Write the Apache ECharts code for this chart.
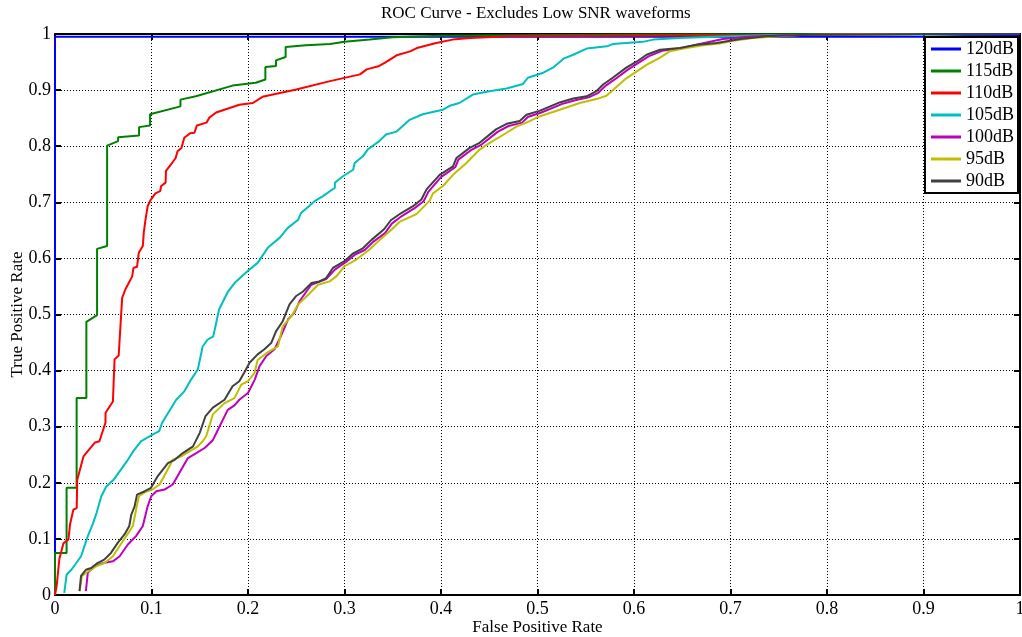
<!DOCTYPE html>
<html>
<head>
<meta charset="utf-8">
<script src="https://cdn.jsdelivr.net/npm/echarts@6/dist/echarts.min.js"></script>
<style>html,body{margin:0;padding:0;background:#fff;}#c{width:1022px;height:637px;}</style>
</head>
<body>
<div id="c"></div>
<script>
var seriesNames = ['120dB','115dB','110dB','105dB','100dB','95dB','90dB'];
var seriesColors = ['#0000ff','#008000','#ff0000','#00bfbf','#bf00bf','#bfbf00','#404040'];
var xTicks = [0,0.1,0.2,0.3,0.4,0.5,0.6,0.7,0.8,0.9,1];

var roc120 = [[0,0],[0,0.995],[0.9,0.995],[1,0.998]];
var roc115 = [[0,0],[0,0.075],[0.012,0.075],[0.012,0.191],[0.0224,0.191],[0.0224,0.351],[0.0325,0.351],[0.0325,0.487],[0.0436,0.499],[0.0436,0.617],[0.054,0.622],[0.054,0.801],[0.0654,0.809],[0.0654,0.816],[0.0871,0.819],[0.0871,0.834],[0.0985,0.837],[0.0985,0.857],[0.130,0.871],[0.130,0.883],[0.146,0.889],[0.184,0.908],[0.208,0.913],[0.218,0.919],[0.218,0.941],[0.229,0.943],[0.229,0.953],[0.239,0.959],[0.239,0.977],[0.260,0.980],[0.285,0.982],[0.300,0.986],[0.326,0.990],[0.350,0.994],[0.40,0.997],[0.6,0.999],[1,1]];
var roc110 = [[0,0],[0.0017,0.016],[0.0045,0.064],[0.0087,0.092],[0.0139,0.099],[0.0156,0.126],[0.019,0.152],[0.0225,0.155],[0.023,0.205],[0.0295,0.247],[0.0415,0.272],[0.046,0.274],[0.0523,0.307],[0.0524,0.325],[0.060,0.345],[0.0617,0.420],[0.066,0.427],[0.0696,0.530],[0.073,0.545],[0.080,0.568],[0.0813,0.583],[0.085,0.585],[0.0868,0.610],[0.091,0.622],[0.092,0.646],[0.0938,0.669],[0.096,0.693],[0.099,0.704],[0.104,0.716],[0.109,0.720],[0.110,0.729],[0.1146,0.735],[0.115,0.756],[0.120,0.767],[0.125,0.779],[0.127,0.791],[0.131,0.797],[0.134,0.815],[0.140,0.823],[0.1445,0.824],[0.147,0.837],[0.157,0.842],[0.160,0.851],[0.167,0.860],[0.191,0.874],[0.205,0.877],[0.215,0.888],[0.25,0.901],[0.285,0.916],[0.316,0.928],[0.323,0.937],[0.336,0.943],[0.342,0.949],[0.354,0.962],[0.368,0.969],[0.375,0.975],[0.395,0.984],[0.412,0.990],[0.430,0.993],[0.471,0.996],[0.8,0.998],[0.85,1],[1,1]];
var roc105 = [[0.0096,0.004],[0.012,0.036],[0.017,0.045],[0.022,0.057],[0.027,0.069],[0.034,0.105],[0.039,0.126],[0.043,0.146],[0.048,0.176],[0.053,0.193],[0.061,0.206],[0.0755,0.241],[0.081,0.256],[0.089,0.274],[0.101,0.286],[0.108,0.292],[0.111,0.307],[0.1256,0.348],[0.134,0.363],[0.141,0.384],[0.148,0.402],[0.153,0.443],[0.158,0.455],[0.164,0.461],[0.167,0.485],[0.170,0.509],[0.179,0.540],[0.186,0.556],[0.200,0.578],[0.210,0.592],[0.221,0.620],[0.233,0.637],[0.241,0.654],[0.252,0.669],[0.255,0.681],[0.269,0.702],[0.2777,0.711],[0.290,0.726],[0.290,0.735],[0.298,0.746],[0.309,0.758],[0.3105,0.770],[0.319,0.782],[0.324,0.794],[0.336,0.809],[0.343,0.821],[0.354,0.826],[0.3675,0.847],[0.381,0.857],[0.402,0.865],[0.409,0.872],[0.419,0.877],[0.433,0.892],[0.450,0.898],[0.468,0.903],[0.485,0.911],[0.490,0.922],[0.506,0.931],[0.516,0.940],[0.527,0.956],[0.537,0.963],[0.551,0.974],[0.572,0.978],[0.578,0.982],[0.609,0.986],[0.620,0.990],[0.647,0.993],[0.699,0.996],[0.75,0.998],[1,1]];
var roc100 = [[0.032,0.007],[0.034,0.040],[0.041,0.051],[0.050,0.057],[0.060,0.060],[0.067,0.069],[0.0755,0.090],[0.084,0.105],[0.091,0.123],[0.096,0.158],[0.0997,0.176],[0.105,0.185],[0.1135,0.188],[0.122,0.197],[0.129,0.218],[0.1377,0.244],[0.1464,0.253],[0.155,0.262],[0.1636,0.276],[0.169,0.295],[0.179,0.330],[0.186,0.338],[0.191,0.348],[0.200,0.360],[0.207,0.384],[0.212,0.408],[0.219,0.426],[0.2275,0.438],[0.234,0.461],[0.2414,0.491],[0.248,0.503],[0.2535,0.524],[0.2656,0.553],[0.281,0.563],[0.290,0.580],[0.302,0.594],[0.311,0.607],[0.321,0.615],[0.330,0.630],[0.342,0.645],[0.349,0.662],[0.359,0.675],[0.373,0.690],[0.382,0.702],[0.387,0.719],[0.400,0.745],[0.415,0.763],[0.418,0.776],[0.432,0.794],[0.442,0.803],[0.459,0.826],[0.470,0.836],[0.484,0.842],[0.490,0.852],[0.504,0.860],[0.525,0.875],[0.539,0.882],[0.553,0.887],[0.563,0.895],[0.570,0.907],[0.580,0.919],[0.594,0.937],[0.605,0.949],[0.615,0.960],[0.629,0.970],[0.650,0.975],[0.668,0.982],[0.692,0.991],[0.72,0.995],[0.76,0.998],[0.9,1],[1,1]];
var roc95 = [[0.0254,0.007],[0.028,0.034],[0.034,0.042],[0.0427,0.051],[0.0513,0.057],[0.060,0.069],[0.0668,0.087],[0.0738,0.105],[0.0807,0.123],[0.084,0.152],[0.087,0.176],[0.0928,0.183],[0.101,0.188],[0.1083,0.197],[0.115,0.218],[0.122,0.241],[0.1308,0.247],[0.1394,0.256],[0.148,0.265],[0.153,0.274],[0.1567,0.283],[0.1636,0.322],[0.1757,0.342],[0.186,0.351],[0.193,0.375],[0.200,0.381],[0.2068,0.396],[0.210,0.419],[0.219,0.431],[0.231,0.443],[0.236,0.479],[0.245,0.497],[0.252,0.518],[0.264,0.538],[0.2725,0.553],[0.2846,0.559],[0.2915,0.568],[0.300,0.586],[0.3123,0.598],[0.326,0.616],[0.3365,0.633],[0.3486,0.651],[0.357,0.665],[0.3745,0.679],[0.3883,0.703],[0.3917,0.716],[0.402,0.729],[0.4125,0.749],[0.4264,0.770],[0.440,0.794],[0.4505,0.806],[0.468,0.824],[0.478,0.835],[0.4886,0.842],[0.502,0.853],[0.523,0.865],[0.5438,0.877],[0.561,0.884],[0.5715,0.890],[0.582,0.906],[0.592,0.921],[0.6026,0.933],[0.613,0.945],[0.627,0.958],[0.637,0.969],[0.6545,0.975],[0.6717,0.980],[0.689,0.983],[0.703,0.988],[0.7235,0.993],[0.751,0.996],[0.772,0.998],[0.9,1],[1,1]];
var roc90 = [[0.0254,0.007],[0.027,0.034],[0.032,0.045],[0.0375,0.048],[0.044,0.057],[0.051,0.063],[0.058,0.075],[0.065,0.093],[0.072,0.108],[0.077,0.123],[0.079,0.143],[0.0825,0.158],[0.085,0.179],[0.093,0.185],[0.0995,0.191],[0.1065,0.212],[0.117,0.235],[0.124,0.241],[0.1325,0.253],[0.143,0.265],[0.150,0.289],[0.156,0.319],[0.1636,0.334],[0.1757,0.348],[0.184,0.372],[0.191,0.381],[0.196,0.396],[0.2016,0.414],[0.210,0.429],[0.217,0.438],[0.224,0.449],[0.229,0.470],[0.236,0.488],[0.243,0.518],[0.250,0.533],[0.257,0.541],[0.2656,0.556],[0.274,0.559],[0.281,0.565],[0.288,0.583],[0.300,0.595],[0.309,0.609],[0.319,0.618],[0.328,0.633],[0.341,0.652],[0.348,0.668],[0.358,0.680],[0.371,0.693],[0.3797,0.705],[0.385,0.723],[0.3986,0.749],[0.4125,0.764],[0.416,0.779],[0.4297,0.797],[0.440,0.806],[0.457,0.830],[0.468,0.840],[0.4816,0.845],[0.4886,0.856],[0.502,0.863],[0.523,0.878],[0.537,0.885],[0.551,0.889],[0.561,0.898],[0.568,0.910],[0.578,0.922],[0.592,0.940],[0.603,0.951],[0.613,0.963],[0.627,0.972],[0.6475,0.975],[0.665,0.981],[0.6855,0.984],[0.710,0.991],[0.7375,0.996],[0.772,0.998],[0.9,1],[1,1]];

var seriesData = [roc120, roc115, roc110, roc105, roc100, roc95, roc90];

var FONT = '"Liberation Serif", "DejaVu Serif", serif';
var chart = echarts.init(document.getElementById('c'), null, {renderer: 'canvas'});

function fmt(v) { return String(Math.round(v * 10) / 10); }
function mainAxis(extra) {
  return Object.assign({
    type: 'value', min: 0, max: 1, interval: 0.1,
    nameMoveOverlap: false,
    axisLine: {show: true, onZero: false, lineStyle: {color: '#000', width: 2}},
    axisTick: {show: true, inside: true, length: 6, lineStyle: {color: '#000', width: 2}},
    splitLine: {show: true, lineStyle: {color: '#000', width: 1, type: [1, 2]}},
    nameTextStyle: {color: '#000', fontFamily: FONT, fontSize: 17}
  }, extra);
}
function boxAxis(pos) {
  return {
    type: 'value', min: 0, max: 1, interval: 0.1, position: pos,
    axisLine: {show: true, onZero: false, lineStyle: {color: '#000', width: 2}},
    axisTick: {show: true, inside: true, length: 6, lineStyle: {color: '#000', width: 2}},
    axisLabel: {show: false}, splitLine: {show: false}
  };
}

var series = seriesNames.map(function (n, i) {
  return {
    name: n, type: 'line', data: seriesData[i], symbol: 'none', showSymbol: false,
    clip: false, animation: false,
    lineStyle: {color: seriesColors[i], width: 2},
    itemStyle: {color: seriesColors[i]}
  };
});

chart.setOption({
  animation: false,
  backgroundColor: '#fff',
  title: {
    text: 'ROC Curve - Excludes Low SNR waveforms',
    left: 376, top: 0,
    textStyle: {fontFamily: FONT, fontSize: 17, fontWeight: 'normal', color: '#000'}
  },
  grid: {left: 55, right: 2, top: 34, bottom: 42, containLabel: false, outerBoundsMode: 'none'},
  xAxis: [
    mainAxis({position: 'bottom', name: 'False Positive Rate', nameLocation: 'middle', nameGap: 24,
      axisLabel: {color: '#000', fontFamily: FONT, fontSize: 18, margin: 5, formatter: fmt}}),
    boxAxis('top')
  ],
  yAxis: [
    mainAxis({position: 'left', name: 'True Positive Rate', nameLocation: 'middle', nameGap: 29,
      axisLabel: {color: '#000', fontFamily: FONT, fontSize: 18, margin: 4, formatter: fmt}}),
    boxAxis('right')
  ],
  legend: {
    data: seriesNames.map(function (n, i) {
      return {name: n, icon: 'rect', itemStyle: {color: seriesColors[i]}};
    }),
    orient: 'vertical', right: 4, top: 37,
    backgroundColor: '#fff', borderColor: '#000', borderWidth: 2, borderRadius: 0,
    padding: [3, 4, 3, 6], itemGap: 4, itemWidth: 30, itemHeight: 3,
    textStyle: {fontFamily: FONT, fontSize: 18, color: '#000', lineHeight: 18}
  },
  series: series
});
</script>
</body>
</html>
